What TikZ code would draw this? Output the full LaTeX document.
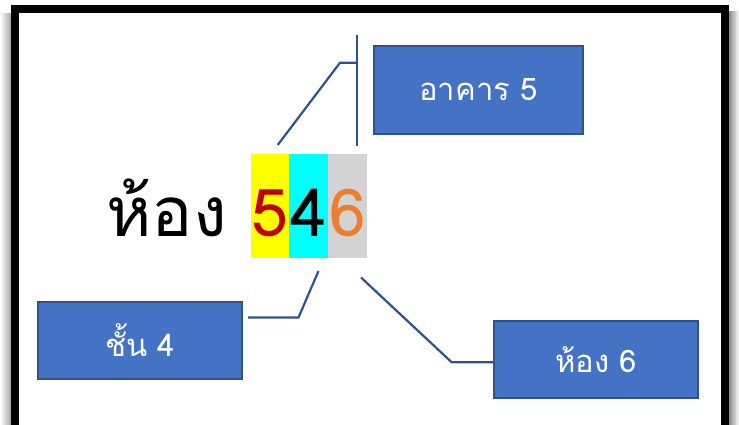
\documentclass[tikz,border=0pt]{standalone}
\usepackage{fontspec}
\newfontfamily\thaifont[Script=Thai]{Loma}
\definecolor{boxblue}{RGB}{68,114,196}
\definecolor{edgeblue}{RGB}{47,82,143}
\definecolor{darkred}{RGB}{192,0,0}
\definecolor{orangesix}{RGB}{237,125,49}
\definecolor{cellgray}{RGB}{211,211,211}
\definecolor{cellyellow}{RGB}{255,255,0}
\definecolor{cellcyan}{RGB}{0,255,255}
\tikzset{
  labelbox/.style={rectangle, draw=edgeblue, line width=2pt, fill=boxblue, text=white,
    minimum width=204pt, minimum height=77pt, inner sep=0pt, font=\thaifont\fontsize{31}{36}\selectfont},
  digitcell/.style={rectangle, minimum width=39pt, minimum height=104pt, inner sep=0pt,
    text height=60pt, text depth=0pt, font=\thaifont\fontsize{66}{72}\selectfont},
  link/.style={draw=edgeblue, line width=2.2pt}
}
\begin{document}
\begin{tikzpicture}[x=1pt,y=-1pt]
\useasboundingbox (0,0) rectangle (739,425);
% shadow and frame
\shade[left color=white, right color=black!35] (0,14) rectangle (11,425);
\shade[left color=black!45, right color=white] (729,12) rectangle (739,425);
\draw[line width=8pt] (15,430) -- (15,9.3) -- (725,9.3) -- (725,430);

% room number
\node[anchor=base west, inner sep=0pt, font=\thaifont\fontsize{69}{76}\selectfont] (word) at (106,236) {ห้อง};
\node[digitcell, fill=cellyellow, text=darkred] (c5) at (270,206) {5};
\node[digitcell, fill=cellcyan, text=black] (c4) at (308.7,206) {4};
\node[digitcell, fill=cellgray, text=orangesix] (c6) at (347.4,206) {6};

% labels
\node[labelbox, minimum width=209pt, minimum height=88pt] (building) at (478.5,90) {อาคาร 5};
\node[labelbox] (floor) at (140,340.5) {ชั้น 4};
\node[labelbox] (room) at (596,359.5) {ห้อง 6};

% connectors
\coordinate (bt) at (357,35);
\coordinate (bb) at (357,146);
\coordinate (b1) at (277.7,145);
\coordinate (b2) at (340,62.7);
\coordinate (f1) at (318.5,271);
\coordinate (f2) at (298.5,317.5);
\coordinate (r1) at (361,277.5);
\coordinate (r2) at (451.7,362.3);
\draw[link] (bt) -- (bb);
\draw[link] (b1) -- (b2) -- (b2 -| bt);
\draw[link] (f1) -- (f2) -- ([xshift=5pt]floor.east |- f2);
\draw[link] (r1) -- (r2) -- (room.west |- r2);
\end{tikzpicture}
\end{document}
